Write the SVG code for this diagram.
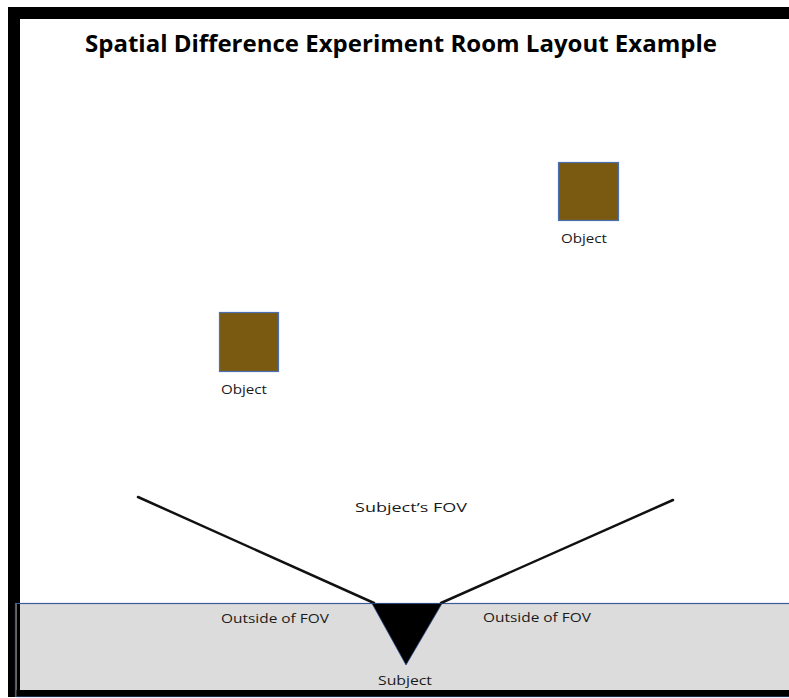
<svg xmlns="http://www.w3.org/2000/svg" width="789" height="698" viewBox="0 0 789 698">
  <style>
    .title { font-family: "Open Sans", "Liberation Sans", Arial, sans-serif; font-weight: 700; font-size: 23px; fill: #000; }
    .label { font-family: "Open Sans", "Liberation Sans", Arial, sans-serif; font-size: 13.5px; fill: #1a1a1a; }
    .object { fill: #7a5a10; stroke: #4a6fb5; stroke-width: 1.2; }
    .fov { stroke: #111; stroke-width: 2.5; fill: none; stroke-linecap: round; }
  </style>
  <rect x="0" y="0" width="789" height="698" fill="#fff"/>

  <!-- room walls -->
  <g id="room">
    <rect x="14" y="13" width="800" height="678" fill="#fff" stroke="#000" stroke-width="12"/>
  </g>

  <!-- area behind the subject -->
  <g id="outside-zone">
    <rect x="15.5" y="603.5" width="800" height="93" fill="#dcdcdc" stroke="#3d5a99" stroke-width="1.2"/>
    <rect x="16.5" y="604" width="3.5" height="92" fill="#000"/>
    <rect x="16.5" y="690" width="800" height="6.5" fill="#000"/>
    <text class="label" x="221" y="623" textLength="108" lengthAdjust="spacingAndGlyphs">Outside of FOV</text>
    <text class="label" x="483" y="622" textLength="108" lengthAdjust="spacingAndGlyphs">Outside of FOV</text>
  </g>

  <g id="title">
    <text class="title" x="85" y="52" textLength="632" lengthAdjust="spacingAndGlyphs">Spatial Difference Experiment Room Layout Example</text>
  </g>

  <g id="object-right">
    <rect class="object" x="558.5" y="162.5" width="60" height="58"/>
    <text class="label" x="561" y="243" textLength="46" lengthAdjust="spacingAndGlyphs">Object</text>
  </g>

  <g id="object-left">
    <rect class="object" x="219.5" y="312.5" width="59" height="59"/>
    <text class="label" x="221" y="394" textLength="46" lengthAdjust="spacingAndGlyphs">Object</text>
  </g>

  <!-- field of view boundaries -->
  <g id="connectors">
    <line class="fov" x1="138" y1="497" x2="374" y2="603"/>
    <line class="fov" x1="673" y1="500" x2="441" y2="603"/>
  </g>

  <g id="fov-label">
    <text class="label" x="355" y="512" textLength="112" lengthAdjust="spacingAndGlyphs">Subject’s FOV</text>
  </g>

  <g id="subject">
    <polygon points="372,603.5 442,603.5 406,665" fill="#000" stroke="#2f4d8a" stroke-width="0.8"/>
    <text class="label" x="378" y="685" textLength="54" lengthAdjust="spacingAndGlyphs">Subject</text>
  </g>
</svg>
